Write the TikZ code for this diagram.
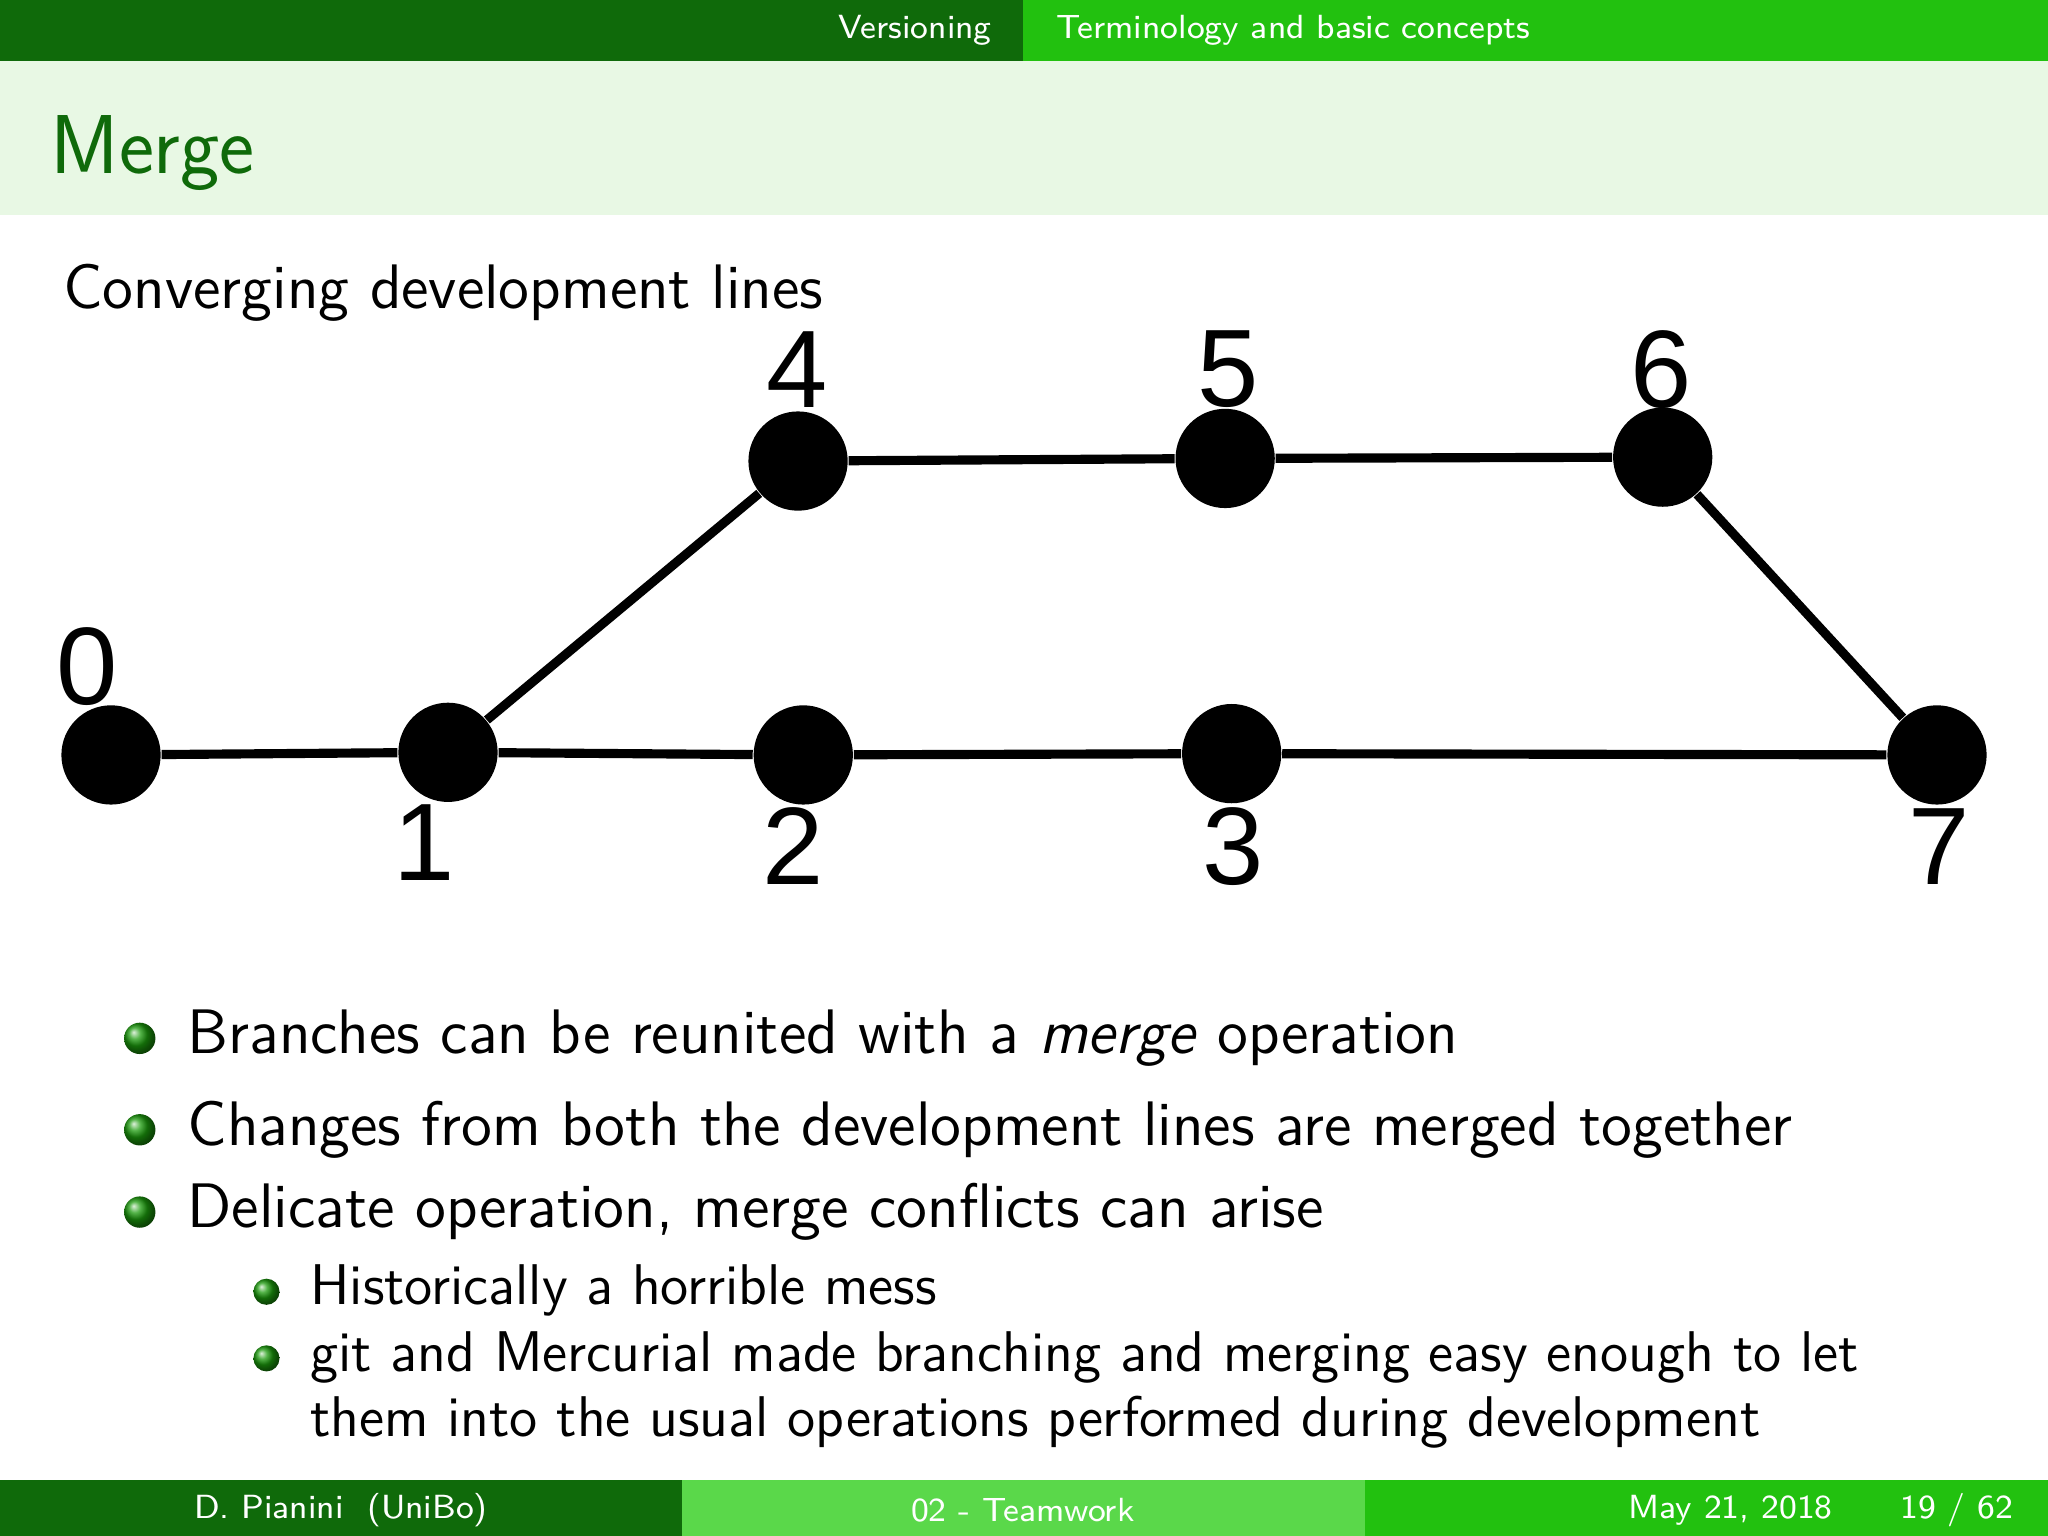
\documentclass[tikz,border=0pt]{standalone}
\usepackage{fontspec}
\newfontfamily\numfont{Liberation Sans}
\definecolor{dkg}{HTML}{0F6A0A}
\definecolor{brg}{HTML}{22C10F}
\definecolor{mdg}{HTML}{5AD84A}
\definecolor{ltg}{HTML}{E8F8E4}
\tikzset{commit/.style={circle,fill=black,minimum size=0.76cm,inner sep=0pt},
 num/.style={font=\numfont\fontsize{24}{24}\selectfont,inner sep=0pt},
 edge/.style={line width=0.07cm},
 txt/.style={font=\sffamily\fontsize{13.7}{16}\selectfont,anchor=west,inner sep=0pt},
 stxt/.style={font=\sffamily\fontsize{12.5}{14}\selectfont,anchor=west,inner sep=0pt},
 bul/.style={circle,ball color=brg!80!black,minimum size=0.24cm,inner sep=0pt},
 sbul/.style={circle,ball color=brg!80!black,minimum size=0.2cm,inner sep=0pt},
 bar/.style={font=\sffamily\fontsize{7.3}{9}\selectfont,text=white,inner sep=0pt}}
\begin{document}
\begin{tikzpicture}[yscale=-1]
\useasboundingbox (0,0) rectangle (15.68,11.76);
\fill[white] (0,0) rectangle (15.68,11.76);
\fill[dkg] (0,0) rectangle (7.83,0.47);
\fill[brg] (7.83,0) rectangle (15.68,0.47);
\node[bar,anchor=east] (h1) at (7.60,0.23) {Versioning};
\node[bar,anchor=west] (h2) at (8.08,0.23) {Terminology and basic concepts};
\fill[ltg] (0,0.47) rectangle (15.68,1.65);
\node[anchor=west,inner sep=0pt,text=dkg,font=\sffamily\fontsize{18.2}{20}\selectfont] (title) at (0.38,1.17) {Merge};
\node[txt] (sub) at (0.48,2.24) {Converging development lines};
\node[commit] (c0) at (0.85,5.78) {};
\node[commit] (c1) at (3.43,5.76) {};
\node[commit] (c2) at (6.15,5.78) {};
\node[commit] (c3) at (9.43,5.77) {};
\node[commit] (c4) at (6.11,3.53) {};
\node[commit] (c5) at (9.38,3.51) {};
\node[commit] (c6) at (12.73,3.50) {};
\node[commit] (c7) at (14.83,5.78) {};
\draw[edge] (c0)--(c1)--(c2)--(c3)--(c7);
\draw[edge] (c1)--(c4)--(c5)--(c6)--(c7);
\node[num] (l0) at (0.67,5.10) {0};
\node[num] (l1) at (3.25,6.45) {1};
\node[num] (l2) at (6.07,6.48) {2};
\node[num] (l3) at (9.44,6.48) {3};
\node[num] (l4) at (6.10,2.83) {4};
\node[num] (l5) at (9.40,2.83) {5};
\node[num] (l6) at (12.72,2.83) {6};
\node[num] (l7) at (14.85,6.48) {7};
\node[bul] (b1) at (1.07,7.95) {};
\node[txt] (t1) at (1.43,7.95) {Branches can be reunited with a \textit{merge} operation};
\node[bul] (b2) at (1.07,8.65) {};
\node[txt] (t2) at (1.43,8.65) {Changes from both the development lines are merged together};
\node[bul] (b3) at (1.07,9.28) {};
\node[txt] (t3) at (1.43,9.28) {Delicate operation, merge conflicts can arise};
\node[sbul] (s1) at (2.04,9.89) {};
\node[stxt] (u1) at (2.37,9.88) {Historically a horrible mess};
\node[sbul] (s2) at (2.04,10.40) {};
\node[stxt] (u2) at (2.37,10.39) {git and Mercurial made branching and merging easy enough to let};
\node[stxt] (u3) at (2.37,10.89) {them into the usual operations performed during development};
\fill[dkg] (0,11.33) rectangle (5.22,11.76);
\fill[mdg] (5.22,11.33) rectangle (10.45,11.76);
\fill[brg] (10.45,11.33) rectangle (15.68,11.76);
\node[bar] (f1) at (2.61,11.56) {D. Pianini\ \ (UniBo)};
\node[bar] (f2) at (7.83,11.56) {02 - Teamwork};
\node[bar] (f3) at (13.25,11.56) {May 21, 2018};
\node[bar] (f4) at (14.98,11.56) {19 / 62};
\end{tikzpicture}
\end{document}
